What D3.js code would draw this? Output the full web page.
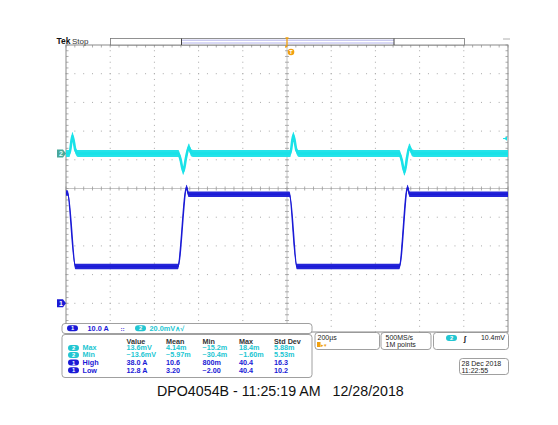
<!DOCTYPE html>
<html><head><meta charset="utf-8">
<script src="https://cdn.jsdelivr.net/npm/d3@7/dist/d3.min.js"></script>
<style>html,body{margin:0;padding:0;background:#fff;} svg{display:block;} text{white-space:pre;}</style>
</head><body><svg id="c" width="558" height="425"></svg>
<script>
// ---------------- DATA ----------------
// Channel 1 (current probe, A) key points, time in µs relative to trigger
const ch1TimeUs = [-1000, -993, -957, -494, -454, -446, 11, 45, 508, 546, 554, 1000];
const ch1Amps   = [38.4, 38.4, 12.8, 12.8, 40.4, 38.0, 38.0, 12.8, 12.8, 40.4, 38.0, 38.0];
const ch1NoisePkPk = 1.9;   // A
// Channel 2 (voltage, mV)
const ch2TimeUs = [-1000, -984, -971, -957, -946, -491, -482, -469, -457, -444, -434, -425,
                   15, 28.5, 43, 54, 509, 518, 532, 543, 554, 566, 575, 1000];
const ch2MilliV = [0, 0, 12.5, 2, 0, 0, -4, -12.5, -3, 4.5, 0.5, 0,
                   0, 12.8, 2, 0, 0, -4, -13, -3, 4.5, 0.5, 0, 0];
const ch2NoisePkPk = 4.8;   // mV
const timePerDivUs = 200;
const ch1PerDiv = 10.0, ch2PerDiv = 20.0;
const ch1PosDiv = -4.0, ch2PosDiv = 1.22;
const trigLevelMv = 10.4;

// measurement table
const measHeaders = ["Value", "Mean", "Min", "Max", "Std Dev"];
const measLabels  = ["Max", "Min", "High", "Low"];
const measChannel = [2, 2, 1, 1];
const measValue = ["13.6mV", "\u221213.6mV", "38.0 A", "12.8 A"];
const measMean  = ["4.14m", "\u22125.97m", "10.6", "3.20"];
const measMin   = ["\u221215.2m", "\u221230.4m", "800m", "\u22122.00"];
const measMax   = ["18.4m", "\u22121.60m", "40.4", "40.4"];
const measStd   = ["5.88m", "5.53m", "16.3", "10.2"];

const chScaleLabels = ["10.0 A", "20.0mV"];
const horizLabels = ["200\u00b5s", "\u221222.00000\u00b5s"];
const acqLabels = ["500MS/s", "1M points"];
const trigLabel = "10.4mV";
const dateLabels = ["28 Dec 2018", "11:22:55"];
const caption = "DPO4054B - 11:25:19 AM   12/28/2018";

// ---------------- LAYOUT ----------------
const C1 = "#1a1ad6", C2 = "#19e2e8", C2T = "#22c6d2", ORANGE = "#f0a010";
const GX0 = 66, GX1 = 508, GY0 = 45, GY1 = 332;
const svg = d3.select("#c");
svg.append("rect").attr("width", 558).attr("height", 425).attr("fill", "#fff");

const xDiv = d3.scaleLinear().domain([0, 10]).range([GX0, GX1]);
const yDiv = d3.scaleLinear().domain([0, 10]).range([GY0, GY1]);
const xT = d3.scaleLinear().domain([-5 * timePerDivUs, 5 * timePerDivUs]).range([GX0, GX1]);
const y1 = d3.scaleLinear().domain([(-5 - ch1PosDiv) * ch1PerDiv, (5 - ch1PosDiv) * ch1PerDiv]).range([GY1, GY0]);
const y2 = d3.scaleLinear().domain([(-5 - ch2PosDiv) * ch2PerDiv, (5 - ch2PosDiv) * ch2PerDiv]).range([GY1, GY0]);

// ---------------- GRATICULE ----------------
const grat = svg.append("g");
const dotCol = "#a8a8a8";
for (let i = 1; i < 10; i++) {
  if (i === 5) continue;
  for (let k = 0; k <= 50; k++) {
    grat.append("rect").attr("x", xDiv(i) - 0.5).attr("y", yDiv(k / 5) - 0.5).attr("width", 1).attr("height", 1).attr("fill", dotCol);
    grat.append("rect").attr("x", xDiv(k / 5) - 0.5).attr("y", yDiv(i) - 0.5).attr("width", 1).attr("height", 1).attr("fill", dotCol);
  }
}
grat.append("line").attr("x1", xDiv(5)).attr("x2", xDiv(5)).attr("y1", GY0).attr("y2", GY1).attr("stroke", "#b5b5b5").attr("stroke-width", 0.8);
grat.append("line").attr("x1", GX0).attr("x2", GX1).attr("y1", yDiv(5)).attr("y2", yDiv(5)).attr("stroke", "#b5b5b5").attr("stroke-width", 0.8);
for (let k = 0; k <= 50; k++) {
  const xx = xDiv(k / 5), yy = yDiv(k / 5);
  grat.append("line").attr("x1", xx).attr("x2", xx).attr("y1", yDiv(5) - 2).attr("y2", yDiv(5) + 2).attr("stroke", "#999").attr("stroke-width", 0.8);
  grat.append("line").attr("x1", xDiv(5) - 2).attr("x2", xDiv(5) + 2).attr("y1", yy).attr("y2", yy).attr("stroke", "#999").attr("stroke-width", 0.8);
  grat.append("line").attr("x1", xx).attr("x2", xx).attr("y1", GY0).attr("y2", GY0 + 2.5).attr("stroke", "#999").attr("stroke-width", 0.8);
  grat.append("line").attr("x1", GX0).attr("x2", GX0 + 2.5).attr("y1", yy).attr("y2", yy).attr("stroke", "#999").attr("stroke-width", 0.8);
  grat.append("line").attr("x1", GX1 - 2.5).attr("x2", GX1).attr("y1", yy).attr("y2", yy).attr("stroke", "#999").attr("stroke-width", 0.8);
}
grat.append("rect").attr("x", GX0).attr("y", GY0).attr("width", GX1 - GX0).attr("height", GY1 - GY0)
  .attr("fill", "none").attr("stroke", "#8a8a8a").attr("stroke-width", 1);

// ---------------- TRACES ----------------
function trace(times, vals, yS, noise, col, lw) {
  const pts = times.map((t, i) => [t, vals[i]]);
  const area = d3.area().x(d => xT(d[0])).y0(d => yS(d[1] - noise / 2)).y1(d => yS(d[1] + noise / 2)).curve(d3.curveMonotoneX);
  svg.append("path").datum(pts).attr("d", area).attr("fill", col).attr("opacity", 0.95);
  const line = d3.line().x(d => xT(d[0])).y(d => yS(d[1])).curve(d3.curveMonotoneX);
  svg.append("path").datum(pts).attr("d", line).attr("fill", "none").attr("stroke", col).attr("stroke-width", lw).attr("stroke-linejoin", "round");
}
trace(ch2TimeUs, ch2MilliV, y2, ch2NoisePkPk, C2, 2.6);
trace(ch1TimeUs, ch1Amps, y1, ch1NoisePkPk, C1, 1.6);

// ---------------- TEXT HELPER ----------------
function T(g, x, y, s, o = {}) {
  return g.append("text")
    .attr("transform", `translate(${x},${y}) scale(${o.sx || 1},1)`)
    .attr("font-family", o.family || "'Liberation Sans', Arial, sans-serif")
    .attr("font-size", o.size || 7)
    .attr("font-weight", o.weight || "normal")
    .attr("fill", o.fill || "#222")
    .attr("text-anchor", o.anchor || "start")
    .text(s);
}
function badge(g, x, y, n, col) {
  g.append("rect").attr("x", x).attr("y", y - 3).attr("width", 11).attr("height", 6).attr("rx", 3).attr("fill", col);
  T(g, x + 5.5, y + 2.1, String(n), { size: 5.8, weight: "bold", fill: "#fff", anchor: "middle" });
}

// ---------------- MARKERS ----------------
const mk = svg.append("g");
function chMarker(y, n, col, txtCol) {
  mk.append("path").attr("d", `M57,${y - 4} h6 l3,4 l-3,4 h-6 z`).attr("fill", col);
  T(mk, 61, y + 2.6, String(n), { size: 7, weight: "bold", fill: txtCol, anchor: "middle" });
}
chMarker(y2(0), 2, "#4aa79a", "#dff");
chMarker(y1(0), 1, C1, "#fff");
mk.append("path").attr("d", `M${GX1 - 4},${y2(trigLevelMv)} l3,-2.2 v4.4 z`).attr("fill", C2);
mk.append("line").attr("x1", GX1 - 5).attr("x2", GX1 - 2).attr("y1", y2(trigLevelMv)).attr("y2", y2(trigLevelMv)).attr("stroke", C2);

// record bar at top
const rb = svg.append("g");
rb.append("rect").attr("x", 110.5).attr("y", 38.5).attr("width", 354).attr("height", 6.5).attr("fill", "#fff").attr("stroke", "#777").attr("stroke-width", 0.8);
rb.append("line").attr("x1", 181.5).attr("x2", 394).attr("y1", 40.2).attr("y2", 40.2).attr("stroke", "#8080dd").attr("stroke-width", 0.6);
rb.append("line").attr("x1", 181.5).attr("x2", 394).attr("y1", 43).attr("y2", 43).attr("stroke", "#8080dd").attr("stroke-width", 0.6);
rb.append("line").attr("x1", 181.5).attr("x2", 181.5).attr("y1", 38.5).attr("y2", 45).attr("stroke", "#444").attr("stroke-width", 1);
rb.append("line").attr("x1", 394).attr("x2", 394).attr("y1", 38.5).attr("y2", 45).attr("stroke", "#444").attr("stroke-width", 1);
const tx = xT(0);
rb.append("path").attr("d", `M${tx - 1.5},38 h3 M${tx},38 v7 q0,2 -2,2`).attr("fill", "none").attr("stroke", ORANGE).attr("stroke-width", 1.3);
rb.append("circle").attr("cx", tx + 4).attr("cy", 52).attr("r", 3.3).attr("fill", ORANGE);
T(rb, tx + 4, 54.3, "T", { size: 5.5, weight: "bold", fill: "#fff", anchor: "middle" });
rb.append("line").attr("x1", 503).attr("x2", 510).attr("y1", 39).attr("y2", 39).attr("stroke", "#999").attr("stroke-width", 0.8);

T(svg, 56.5, 44, "Tek", { size: 8.5, weight: "bold", fill: "#111" });
T(svg, 72, 44, "Stop", { size: 8, fill: "#333" });

// ---------------- READOUTS ----------------
const ro = svg.append("g");
ro.append("rect").attr("x", 62).attr("y", 323.5).attr("width", 250).attr("height", 10).attr("rx", 3).attr("fill", "#fff").attr("stroke", "#888").attr("stroke-width", 0.8);
badge(ro, 67, 328.3, 1, C1);
T(ro, 87.5, 331, chScaleLabels[0], { size: 7, weight: "bold", fill: C1, sx: 1.05 });
T(ro, 120.5, 330.5, "\u2237", { size: 5, weight: "bold", fill: C1 });
badge(ro, 135, 328.3, 2, C2T);
T(ro, 149.5, 331, chScaleLabels[1] + "\u2227\u221a", { size: 7, weight: "bold", fill: C2T, sx: 1.05 });

ro.append("rect").attr("x", 62).attr("y", 334.5).attr("width", 250).attr("height", 43).attr("rx", 3).attr("fill", "#fff").attr("stroke", "#888").attr("stroke-width", 0.8);
const colX = [126.5, 166, 202.5, 239, 274];
measHeaders.forEach((h, i) => T(ro, colX[i], 343.5, h, { size: 6.3, weight: "bold", fill: "#333", sx: 1.15 }));
const rowY = [350.2, 357.2, 364.8, 372.5];
const cols = [measValue, measMean, measMin, measMax, measStd];
measLabels.forEach((lab, r) => {
  const ch = measChannel[r];
  const col = ch === 1 ? C1 : C2T;
  badge(ro, 68, rowY[r] - 2.3, ch, col);
  T(ro, 82.5, rowY[r], lab, { size: 6.3, weight: "bold", fill: col, sx: 1.15 });
  cols.forEach((c, i) => T(ro, colX[i], rowY[r], c[r], { size: 6.3, weight: "bold", fill: col, sx: 1.15 }));
});

function box(x, y, w, h) {
  ro.append("rect").attr("x", x).attr("y", y).attr("width", w).attr("height", h).attr("rx", 3).attr("fill", "#fff").attr("stroke", "#888").attr("stroke-width", 0.8);
}
box(315, 332.5, 64.5, 17);
T(ro, 317.5, 339.6, horizLabels[0], { size: 7, fill: "#222" });
const clip = svg.append("defs").append("clipPath").attr("id", "hclip");
clip.append("rect").attr("x", 315).attr("y", 332).attr("width", 64).attr("height", 18);
ro.append("rect").attr("x", 317).attr("y", 342).attr("width", 3.5).attr("height", 5).attr("fill", ORANGE);
T(ro, 320.5, 347, "\u25b8\u25be", { size: 5, fill: ORANGE });
T(ro, 328, 347.2, horizLabels[1], { size: 7, fill: ORANGE, sx: 1.05 }).attr("clip-path", "url(#hclip)");

box(381, 332.5, 50, 17);
T(ro, 385.5, 339.6, acqLabels[0], { size: 7, fill: "#222" });
T(ro, 385.5, 347.2, acqLabels[1], { size: 7, fill: "#222" });

box(433.5, 332.5, 75, 17);
badge(ro, 446, 338, 2, C2T);
T(ro, 463.5, 340.5, "\u0283", { size: 8, fill: "#222", weight: "bold" });
T(ro, 505, 340, trigLabel, { size: 7, fill: "#222", anchor: "end" });

box(459.5, 358.5, 49, 16);
T(ro, 461.5, 366, dateLabels[0], { size: 7, fill: "#222" });
T(ro, 461.5, 373, dateLabels[1], { size: 7, fill: "#222" });

T(svg, 157, 395.5, caption, { size: 15.5, fill: "#111", sx: 0.92 });
</script></body></html>
